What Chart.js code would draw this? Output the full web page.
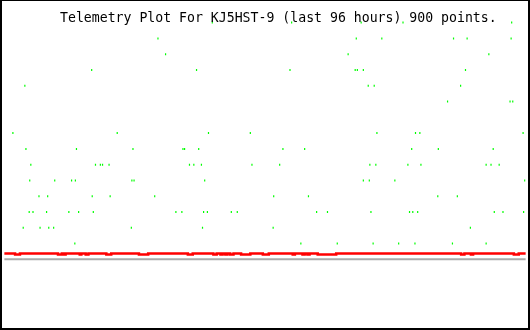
<!DOCTYPE html>
<html>
<head>
<meta charset="utf-8">
<script src="https://cdn.jsdelivr.net/npm/chart.js@4/dist/chart.umd.min.js"></script>
<style>
    body { margin: 0; background: #fff; }
    #wrap {
        position: relative;
        width: 530px;
        height: 330px;
        box-sizing: border-box;
        border: 2px solid #000;
        border-top-width: 1px;
        background: #fff;
    }
    #title {
        position: absolute;
        left: 58px;
        top: 10px;
        font: 13.2px "DejaVu Sans Mono", monospace;
        line-height: 13px;
        color: #000;
        white-space: pre;
        pointer-events: none;
        z-index: 2;
    }
    canvas { display: block; }
</style>
</head>
<body>
<div id="wrap">
    <div id="title">Telemetry Plot For KJ5HST-9 (last 96 hours) 900 points.</div>
    <canvas id="telemetryChart"></canvas>
</div>
<script>
// hours covered by the plot
const hourRange = [0, 96];

// green samples: hour position and level
const greenHours = [
    38.3, 52.9, 65.7, 73.4, 93.4,
    28.3, 64.8, 69.5, 82.7, 85.2, 93.3,
    29.7, 63.3, 89.2,
    16.1, 35.4, 52.6, 64.6, 65.0, 66.1, 84.9,
    3.8, 67.0, 68.1, 84.0,
    81.6, 93.1, 93.6,
    1.6, 20.8, 37.6, 45.3, 68.6, 75.7, 76.5, 95.5,
    4.0, 13.3, 23.7, 32.9, 33.2, 35.8, 51.3, 55.3, 75.0, 79.9, 90.0,
    4.9, 16.8, 17.7, 18.1, 19.3, 34.1, 34.9, 36.3, 45.6, 50.7, 67.3, 68.4, 74.3, 76.7, 88.7, 89.6, 91.1,
    4.7, 9.3, 12.4, 13.1, 23.5, 23.9, 36.9, 66.1, 67.2, 71.9, 95.8,
    6.4, 8.0, 16.2, 19.5, 27.7, 49.6, 56.0, 79.8, 83.4,
    4.6, 5.3, 7.8, 11.9, 13.7, 16.4, 31.6, 32.7, 36.7, 37.4, 41.8, 42.9, 57.5, 59.5, 67.5, 74.6, 75.2, 76.1, 90.2, 91.8, 95.6,
    3.5, 6.6, 8.2, 9.1, 23.4, 36.5, 49.5, 85.8,
    13.0, 54.6, 61.3, 67.9, 72.6, 75.6, 82.5, 88.7
];
const greenLevels = [
    15, 15, 15, 15, 15,
    14, 14, 14, 14, 14, 14,
    13, 13, 13,
    12, 12, 12, 12, 12, 12, 12,
    11, 11, 11, 11,
    10, 10, 10,
    8, 8, 8, 8, 8, 8, 8, 8,
    7, 7, 7, 7, 7, 7, 7, 7, 7, 7, 7,
    6, 6, 6, 6, 6, 6, 6, 6, 6, 6, 6, 6, 6, 6, 6, 6, 6,
    5, 5, 5, 5, 5, 5, 5, 5, 5, 5, 5,
    4, 4, 4, 4, 4, 4, 4, 4, 4,
    3, 3, 3, 3, 3, 3, 3, 3, 3, 3, 3, 3, 3, 3, 3, 3, 3, 3, 3, 3, 3,
    2, 2, 2, 2, 2, 2, 2, 2,
    1, 1, 1, 1, 1, 1, 1, 1
];

// red trace: level holds from each hour until the next one
const redHours = [
    0, 2.0, 2.9, 9.9, 10.6, 11.0, 11.3, 13.9, 14.2, 15.0, 15.5, 18.8, 19.7,
    24.8, 26.5, 33.8, 34.7, 38.5, 39.1, 39.8, 40.2, 40.7, 41.1, 41.6, 42.2,
    43.6, 45.3, 47.6, 48.7, 53.1, 53.5, 54.9, 55.3, 55.8, 56.2, 57.7, 61.1,
    84.1, 84.7, 85.9, 86.3, 93.8, 94.7, 96
];
const redLevels = [
    0.37, 0.31, 0.37, 0.31, 0.37, 0.31, 0.37, 0.31, 0.37, 0.31, 0.37, 0.31, 0.37,
    0.31, 0.37, 0.31, 0.37, 0.31, 0.37, 0.31, 0.37, 0.31, 0.37, 0.31, 0.37,
    0.31, 0.37, 0.31, 0.37, 0.31, 0.37, 0.31, 0.37, 0.31, 0.37, 0.31, 0.37,
    0.31, 0.37, 0.31, 0.37, 0.31, 0.37, 0.37
];

// grey base line
const baseLevel = 0;

document.addEventListener('DOMContentLoaded', function () {
    const ctx = document.getElementById('telemetryChart').getContext('2d');
    new Chart(ctx, {
        type: 'scatter',
        data: {
            datasets: [{
                label: 'green',
                data: greenHours.map((h, i) => ({ x: h, y: greenLevels[i] })),
                showLine: false,
                pointStyle: 'line',
                rotation: 90,
                pointRadius: 1,
                pointHoverRadius: 1,
                borderWidth: 1.2,
                borderColor: '#00ff00',
                backgroundColor: '#00ff00',
                order: 1
            },
            {
                label: 'red',
                data: redHours.map((h, i) => ({ x: h, y: redLevels[i] })),
                showLine: true,
                stepped: true,
                pointRadius: 0,
                borderWidth: 2.5,
                borderColor: '#ff0000',
                order: 2
            },
            {
                label: 'base',
                data: hourRange.map(h => ({ x: h, y: baseLevel })),
                showLine: true,
                pointRadius: 0,
                borderWidth: 2,
                borderColor: '#aaaaaa',
                order: 3
            }]
        },
        options: {
            responsive: true,
            maintainAspectRatio: false,
            animation: false,
            layout: { padding: 0 },
            plugins: {
                legend: { display: false },
                tooltip: { enabled: false },
                title: { display: false }
            },
            scales: {
                x: { type: 'linear', min: hourRange[0], max: hourRange[1], display: false },
                y: { min: -4.21, max: 16.23, display: false }
            }
        }
    });
});
</script>
</body>
</html>
